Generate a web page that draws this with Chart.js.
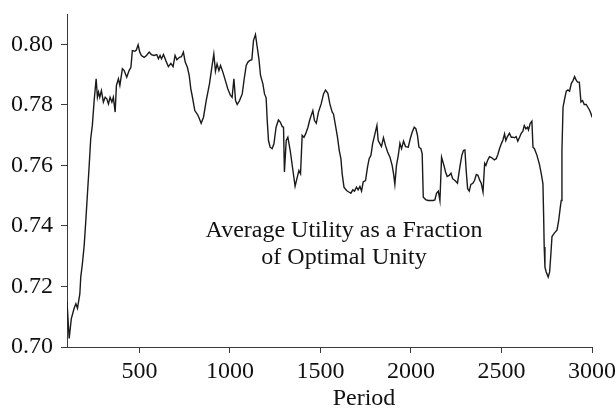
<!DOCTYPE html>
<html>
<head>
<meta charset="utf-8">
<script src="https://cdn.jsdelivr.net/npm/chart.js@4"></script>
<style>
  html, body { margin: 0; padding: 0; background: #fff; }
  #wrap { width: 616px; height: 410px; }
</style>
</head>
<body>
<div id="wrap"><canvas id="utility-chart" width="616" height="410"></canvas></div>
<script>
const periods = [
  100, 112, 124, 139, 149, 158, 171, 176, 185, 195, 204, 213, 222, 231, 240, 250, 261, 268, 274, 281,
  290, 301, 311, 320, 329, 338, 348, 356, 366, 373, 384, 392, 406, 416, 430, 443, 453, 461, 475, 483,
  493, 502, 511, 526, 539, 554, 566, 581, 596, 605, 614, 622, 633, 646, 660, 674, 686, 697, 707, 721,
  732, 743, 753, 765, 775, 784, 793, 806, 821, 828, 841, 854, 869, 887, 900, 911, 920, 929, 939, 948,
  961, 975, 988, 1003, 1012, 1022, 1031, 1040, 1053, 1068, 1080, 1090, 1099, 1108, 1121, 1130, 1141, 1151, 1160, 1169,
  1182, 1191, 1200, 1206, 1213, 1222, 1233, 1243, 1255, 1268, 1278, 1289, 1296, 1301, 1311, 1320, 1333, 1348, 1360, 1372,
  1381, 1390, 1399, 1409, 1418, 1431, 1440, 1449, 1458, 1467, 1477, 1489, 1504, 1517, 1528, 1541, 1552, 1565, 1572, 1583,
  1594, 1604, 1613, 1620, 1630, 1644, 1657, 1668, 1679, 1688, 1699, 1708, 1718, 1727, 1736, 1749, 1760, 1769, 1779, 1788,
  1801, 1812, 1819, 1829, 1837, 1848, 1859, 1871, 1884, 1896, 1904, 1911, 1920, 1930, 1939, 1948, 1959, 1970, 1985, 1996,
  2007, 2018, 2027, 2036, 2044, 2055, 2062, 2068, 2081, 2095, 2110, 2123, 2132, 2141, 2151, 2160, 2169, 2182, 2191, 2200,
  2211, 2221, 2230, 2243, 2257, 2270, 2281, 2290, 2298, 2305, 2313, 2322, 2331, 2342, 2351, 2361, 2370, 2379, 2388, 2398,
  2407, 2414, 2423, 2434, 2447, 2460, 2471, 2480, 2489, 2499, 2508, 2517, 2524, 2533, 2544, 2554, 2563, 2572, 2581, 2590,
  2600, 2609, 2618, 2626, 2635, 2644, 2649, 2659, 2668, 2674, 2682, 2696, 2709, 2720, 2729, 2733, 2736, 2740, 2747, 2758,
  2766, 2773, 2779, 2792, 2807, 2816, 2825, 2830, 2834, 2840, 2849, 2858, 2867, 2876, 2886, 2895, 2904, 2912, 2920, 2930,
  2939, 2948, 2957, 2968, 2977, 2986, 2995, 3000
];

const utility = [
  0.7149, 0.7028, 0.7094, 0.7127, 0.7143, 0.7128, 0.7176, 0.7231, 0.7275, 0.7336, 0.7418, 0.7506, 0.7594, 0.7688, 0.7732, 0.7814, 0.7886, 0.7825, 0.7842, 0.7825,
  0.7847, 0.7809, 0.7825, 0.7820, 0.7803, 0.7825, 0.7809, 0.7825, 0.7776, 0.7864, 0.7886, 0.7864, 0.7919, 0.7913, 0.7891, 0.7913, 0.7924, 0.7979, 0.7977, 0.7981,
  0.7998, 0.7974, 0.7963, 0.7957, 0.7963, 0.7974, 0.7966, 0.7963, 0.7966, 0.7952, 0.7963, 0.7952, 0.7966, 0.7946, 0.7926, 0.7937, 0.7926, 0.7963, 0.7949, 0.7957,
  0.7959, 0.7974, 0.7941, 0.7924, 0.7897, 0.7853, 0.7825, 0.7781, 0.7768, 0.7759, 0.7739, 0.7759, 0.7814, 0.7869, 0.7924, 0.7968, 0.7911, 0.7935, 0.7913, 0.7930,
  0.7908, 0.7880, 0.7853, 0.7831, 0.7825, 0.7886, 0.7814, 0.7801, 0.7814, 0.7836, 0.7891, 0.7930, 0.7941, 0.7946, 0.7949, 0.8012, 0.8032, 0.7990, 0.7952, 0.7897,
  0.7869, 0.7836, 0.7823, 0.7748, 0.7682, 0.7660, 0.7655, 0.7671, 0.7726, 0.7750, 0.7743, 0.7728, 0.7726, 0.7578, 0.7682, 0.7693, 0.7649, 0.7583, 0.7531, 0.7561,
  0.7583, 0.7572, 0.7699, 0.7693, 0.7704, 0.7726, 0.7748, 0.7765, 0.7781, 0.7748, 0.7739, 0.7776, 0.7803, 0.7836, 0.7849, 0.7838, 0.7803, 0.7776, 0.7770, 0.7732,
  0.7693, 0.7649, 0.7622, 0.7572, 0.7528, 0.7517, 0.7512, 0.7508, 0.7519, 0.7515, 0.7528, 0.7519, 0.7530, 0.7515, 0.7545, 0.7550, 0.7594, 0.7622, 0.7633, 0.7671,
  0.7704, 0.7732, 0.7682, 0.7671, 0.7662, 0.7691, 0.7666, 0.7644, 0.7627, 0.7600, 0.7572, 0.7537, 0.7600, 0.7633, 0.7673, 0.7655, 0.7680, 0.7662, 0.7660, 0.7688,
  0.7710, 0.7726, 0.7721, 0.7699, 0.7660, 0.7655, 0.7638, 0.7495, 0.7487, 0.7484, 0.7484, 0.7484, 0.7486, 0.7508, 0.7515, 0.7484, 0.7627, 0.7600, 0.7578, 0.7563,
  0.7567, 0.7574, 0.7556, 0.7550, 0.7541, 0.7594, 0.7633, 0.7649, 0.7651, 0.7583, 0.7523, 0.7515, 0.7537, 0.7541, 0.7550, 0.7570, 0.7567, 0.7552, 0.7541, 0.7512,
  0.7607, 0.7600, 0.7616, 0.7629, 0.7625, 0.7618, 0.7622, 0.7636, 0.7655, 0.7671, 0.7684, 0.7704, 0.7682, 0.7695, 0.7706, 0.7693, 0.7693, 0.7691, 0.7695, 0.7680,
  0.7693, 0.7706, 0.7713, 0.7732, 0.7721, 0.7726, 0.7717, 0.7739, 0.7746, 0.7660, 0.7655, 0.7633, 0.7605, 0.7572, 0.7539, 0.7429, 0.7330, 0.7264, 0.7248, 0.7231,
  0.7248, 0.7308, 0.7365, 0.7376, 0.7387, 0.7418, 0.7462, 0.7484, 0.7649, 0.7792, 0.7820, 0.7845, 0.7849, 0.7845, 0.7871, 0.7880, 0.7893, 0.7882, 0.7875, 0.7875,
  0.7809, 0.7814, 0.7801, 0.7801, 0.7792, 0.7783, 0.7770, 0.7759
];

const xTicks = [500, 1000, 1500, 2000, 2500, 3000];
const yTicks = [0.70, 0.72, 0.74, 0.76, 0.78, 0.80];
const noteLines = ['Average Utility as a Fraction', 'of Optimal Unity'];
const xTitle = 'Period';

const serif = "'Liberation Serif', 'Times New Roman', serif";
const axisColor = '#3a3a3a';

// text drawn on top: the note inside the plot and the axis title
const textPlugin = {
  id: 'textPlugin',
  afterDraw(chart) {
    const ctx = chart.ctx;
    const area = chart.chartArea;
    ctx.save();
    ctx.font = '24px ' + serif;
    ctx.fillStyle = '#111';
    ctx.textAlign = 'center';
    ctx.textBaseline = 'alphabetic';
    ctx.fillText(noteLines[0], area.left + 277, area.top + 223);
    ctx.fillText(noteLines[1], area.left + 277, area.top + 250);
    ctx.fillText(xTitle, area.left + 297, chart.height - 5);
    ctx.restore();
  }
};

const utilityCanvas = document.getElementById('utility-chart');

let utilityData = {
  datasets: [{
    data: periods.map((p, i) => ({ x: p, y: utility[i] })),
    showLine: true,
    borderColor: '#1a1a1a',
    borderWidth: 1.4,
    pointRadius: 0,
    tension: 0
  }]
};

let utilityOptions = {
  responsive: false,
  animation: false,
  layout: {
    padding: { top: 14, right: 24, left: 0, bottom: 0 }
  },
  scales: {
    x: {
      type: 'linear',
      min: 100,
      max: 3000,
      afterBuildTicks: axis => { axis.ticks = xTicks.map(v => ({ value: v })); },
      afterFit: axis => {
        axis.height = 63;
        axis.paddingLeft = 0;
        axis.paddingRight = 0;
      },
      grid: { drawOnChartArea: false, drawTicks: true, tickLength: 6, color: axisColor },
      border: { display: true, color: axisColor, width: 1 },
      ticks: {
        color: '#111',
        padding: 4,
        maxRotation: 0,
        font: { family: serif, size: 24 },
        callback: v => String(v)
      }
    },
    y: {
      min: 0.70,
      max: 0.81,
      afterBuildTicks: axis => { axis.ticks = yTicks.map(v => ({ value: v })); },
      afterFit: axis => {
        axis.width = 67;
        axis.paddingTop = 0;
        axis.paddingBottom = 0;
      },
      grid: { drawOnChartArea: false, drawTicks: true, tickLength: 6, color: axisColor },
      border: { display: true, color: axisColor, width: 1 },
      ticks: {
        color: '#111',
        padding: 8,
        font: { family: serif, size: 24 },
        callback: v => v.toFixed(2)
      }
    }
  },
  plugins: {
    legend: { display: false },
    tooltip: { enabled: false }
  }
};

let utilityChart = new Chart(utilityCanvas, {
  type: 'scatter',
  data: utilityData,
  options: utilityOptions,
  plugins: [textPlugin]
});
</script>
</body>
</html>
